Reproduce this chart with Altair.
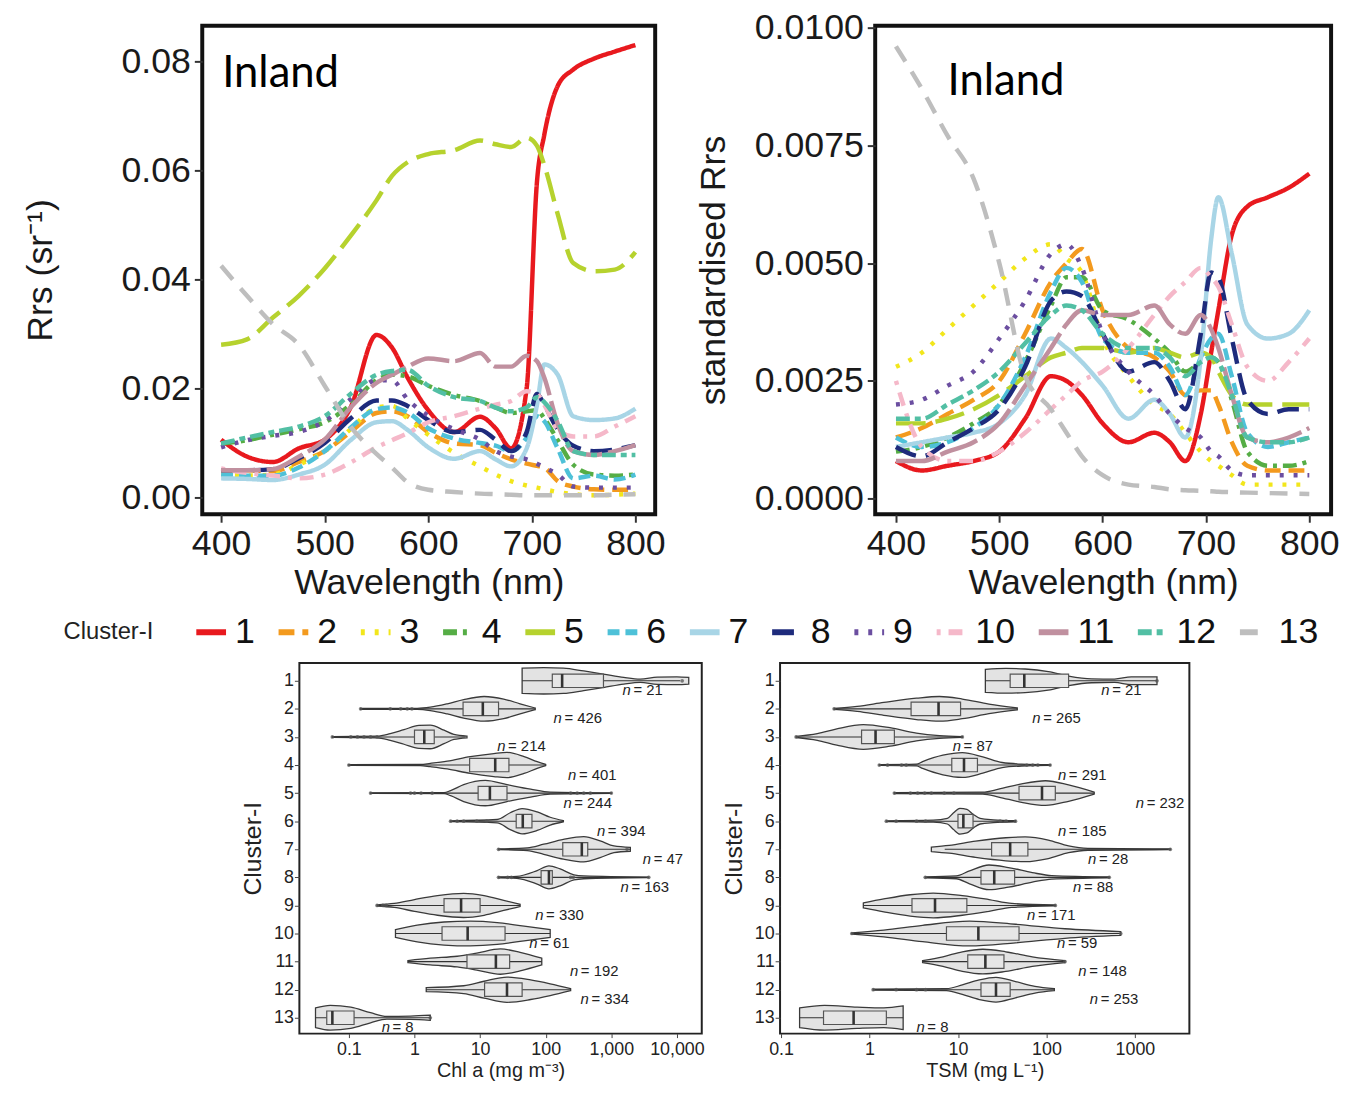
import altair as alt
import pandas as pd

FONT = "Liberation Sans"

# ---------------- cluster styling ----------------
CLUSTERS = [str(i) for i in range(1, 14)]
CLUSTER_COLORS = ["#E8191E", "#F39A1E", "#F2E61B", "#55AD45", "#B6D22E", "#4EC1D8",
                  "#A8D5E6", "#1E2B7C", "#6B4EA0", "#F5B8C9", "#C0909F", "#52BFA4", "#BEBEBE"]
CLUSTER_DASHES = [[1, 0], [16, 8], [4, 10], [14, 6, 4, 6], [30, 10], [12, 6], [1, 0],
                  [22, 10], [4, 10], [4, 8, 14, 8], [40, 6], [14, 5, 6, 5], [18, 12]]

# ---------------- spectra ----------------
WAVELENGTH = [400, 425, 450, 475, 500, 525, 550, 565, 580, 600, 625, 650, 665, 680, 695, 705, 712, 725, 740, 760, 780, 800]

rrs_1 = [.0106, .0075, .0065, .0090, .0106, .0165, .0298, .0275, .0220, .0160, .0120, .0148, .0127, .0090, .0200, .0580, .0665, .0755, .0785, .0805, .0818, .0830]
rrs_2 = [.0050, .0050, .0048, .0065, .0085, .0120, .0155, .0158, .0149, .0120, .0099, .0096, .0082, .0070, .0062, .0058, .0055, .0030, .0020, .0015, .0014, .0014]
rrs_3 = [.0042, .0040, .0042, .0060, .0085, .0125, .0165, .0168, .0145, .0115, .0082, .0057, .0042, .0030, .0022, .0018, .0015, .0010, .0006, .0004, .0005, .0007]
rrs_4 = [.0099, .0105, .0115, .0125, .0138, .0170, .0215, .0225, .0222, .0205, .0188, .0177, .0165, .0155, .0158, .0160, .0145, .0105, .0060, .0042, .0040, .0042]
rrs_5 = [.0280, .0290, .0330, .0370, .0420, .0480, .0545, .0590, .0615, .0630, .0637, .0655, .0648, .0643, .0660, .0645, .0610, .0520, .0430, .0415, .0418, .0450]
rrs_6 = [.0042, .0040, .0040, .0055, .0085, .0128, .0162, .0165, .0156, .0127, .0108, .0100, .0095, .0085, .0110, .0149, .0140, .0090, .0035, .0040, .0033, .0042]
rrs_7 = [.0035, .0034, .0032, .0042, .0060, .0105, .0138, .0140, .0124, .0092, .0071, .0085, .0070, .0057, .0090, .0170, .0244, .0225, .0149, .0142, .0145, .0163]
rrs_8 = [.0050, .0050, .0052, .0072, .0100, .0145, .0178, .0178, .0168, .0142, .0120, .0124, .0106, .0085, .0120, .0190, .0170, .0125, .0095, .0085, .0088, .0096]
rrs_9 = [.0092, .0105, .0113, .0120, .0140, .0180, .0215, .0215, .0180, .0150, .0125, .0106, .0085, .0075, .0070, .0062, .0055, .0042, .0020, .0018, .0018, .0018]
rrs_10 = [.0053, .0045, .0040, .0035, .0042, .0064, .0092, .0105, .0118, .0138, .0149, .0163, .0170, .0177, .0195, .0190, .0170, .0125, .0112, .0112, .0130, .0149]
rrs_11 = [.0050, .0050, .0052, .0075, .0106, .0165, .0210, .0225, .0240, .0255, .0250, .0265, .0240, .0240, .0260, .0250, .0220, .0135, .0085, .0078, .0085, .0096]
rrs_12 = [.0099, .0110, .0120, .0130, .0149, .0190, .0225, .0232, .0234, .0205, .0184, .0177, .0165, .0158, .0165, .0184, .0175, .0140, .0085, .0078, .0078, .0078]
rrs_13 = [.0425, .0370, .0318, .0280, .0205, .0130, .0080, .0055, .0028, .0014, .0010, .0007, .0006, .0005, .0004, .0004, .0004, .0004, .0004, .0004, .0005, .0006]

std_1 = [.0008, .0006, .0007, .0008, .0010, .0017, .0026, .0025, .0022, .0016, .0012, .0014, .0012, .0008, .0018, .0031, .0040, .0056, .0062, .0064, .0066, .0069]
std_2 = [.0013, .0015, .0018, .0021, .0025, .0035, .0046, .0050, .0053, .0040, .0032, .0030, .0027, .0022, .0023, .0023, .0020, .0012, .0007, .0006, .0006, .0006]
std_3 = [.0028, .0031, .0036, .0041, .0046, .0051, .0054, .0051, .0048, .0034, .0026, .0020, .0018, .0014, .0010, .0008, .0007, .0005, .0003, .0003, .0003, .0003]
std_4 = [.0010, .0011, .0013, .0016, .0020, .0029, .0041, .0047, .0047, .0040, .0038, .0034, .0031, .0027, .0029, .0030, .0029, .0021, .0010, .0007, .0007, .0008]
std_5 = [.0016, .0016, .0017, .0019, .0022, .0026, .0030, .0031, .0032, .0032, .0031, .0032, .0031, .0030, .0031, .0030, .0027, .0022, .0020, .0020, .0020, .0020]
std_6 = [.0013, .0011, .0012, .0015, .0020, .0030, .0044, .0049, .0046, .0034, .0031, .0031, .0028, .0022, .0030, .0034, .0035, .0026, .0014, .0011, .0012, .0013]
std_7 = [.0011, .0012, .0013, .0014, .0016, .0022, .0034, .0032, .0029, .0024, .0017, .0021, .0018, .0013, .0030, .0055, .0064, .0052, .0037, .0034, .0035, .0040]
std_8 = [.0011, .0009, .0012, .0015, .0019, .0028, .0042, .0044, .0043, .0035, .0027, .0029, .0025, .0019, .0035, .0048, .0047, .0034, .0021, .0018, .0019, .0019]
std_9 = [.0020, .0021, .0024, .0027, .0034, .0042, .0052, .0054, .0049, .0035, .0027, .0022, .0018, .0015, .0013, .0010, .0009, .0006, .0005, .0005, .0005, .0005]
std_10 = [.0025, .0011, .0008, .0008, .0010, .0014, .0019, .0022, .0025, .0027, .0032, .0039, .0043, .0046, .0049, .0047, .0045, .0037, .0028, .0025, .0029, .0034]
std_11 = [.0008, .0008, .0010, .0012, .0016, .0024, .0032, .0037, .0040, .0039, .0039, .0041, .0037, .0035, .0039, .0036, .0032, .0022, .0013, .0012, .0013, .0015]
std_12 = [.0017, .0017, .0020, .0023, .0027, .0033, .0039, .0041, .0040, .0035, .0032, .0032, .0030, .0026, .0029, .0030, .0029, .0022, .0013, .0012, .0012, .0013]
std_13 = [.0096, .0087, .0077, .0068, .0050, .0026, .0019, .0014, .0009, .0005, .0003, .00025, .0002, .00018, .00017, .00016, .00015, .00014, .00013, .00012, .00011, .0001]

RRS = [rrs_1, rrs_2, rrs_3, rrs_4, rrs_5, rrs_6, rrs_7, rrs_8, rrs_9, rrs_10, rrs_11, rrs_12, rrs_13]
STD = [std_1, std_2, std_3, std_4, std_5, std_6, std_7, std_8, std_9, std_10, std_11, std_12, std_13]

# ---------------- violin / box data ----------------
chl_violin_x = [
    [43.7, 93.3, 186, 380, 759, 1549, 2754, 5012, 10000, 15136],
    [0.151, 1.1, 1.74, 3.16, 5.62, 11.5, 22.9, 40.7, 69.2],
    [0.056, 0.269, 0.427, 0.692, 1.17, 1.74, 2.82, 3.98, 6.31],
    [0.1, 1.23, 1.74, 3.16, 7.08, 16.2, 25.7, 46.8, 74.1, 100],
    [0.214, 2.82, 3.55, 5.62, 12.0, 25.7, 58.9, 117, 1000],
    [3.55, 18.2, 28.8, 43.7, 74.1, 117, 186],
    [19.1, 52.5, 93.3, 186, 380, 676, 1096, 1950],
    [19.1, 36.3, 74.1, 112, 166, 269, 380, 3715],
    [0.269, 0.49, 1.0, 2.24, 5.62, 11.5, 22.9, 40.7],
    [0.513, 1.1, 2.82, 7.08, 18.2, 46.8, 117],
    [0.794, 1.74, 4.47, 8.91, 20.4, 40.7, 87.1],
    [1.51, 5.62, 11.5, 25.7, 58.9, 117, 240],
    [0.031, 0.052, 0.107, 0.214, 0.38, 0.871, 1.74],
]
chl_violin_hw = [
    [0.45, 0.47, 0.45, 0.35, 0.24, 0.12, 0.06, 0.13, 0.14, 0.12],
    [0.015, 0.02, 0.06, 0.18, 0.33, 0.44, 0.35, 0.18, 0.03],
    [0.015, 0.03, 0.12, 0.26, 0.41, 0.42, 0.24, 0.09, 0.03],
    [0.01, 0.02, 0.06, 0.14, 0.30, 0.41, 0.45, 0.30, 0.12, 0.02],
    [0.01, 0.02, 0.09, 0.30, 0.45, 0.30, 0.14, 0.035, 0.01],
    [0.015, 0.06, 0.30, 0.45, 0.33, 0.14, 0.02],
    [0.015, 0.05, 0.18, 0.35, 0.45, 0.30, 0.12, 0.07],
    [0.015, 0.035, 0.24, 0.41, 0.30, 0.09, 0.05, 0.01],
    [0.02, 0.07, 0.21, 0.35, 0.43, 0.35, 0.18, 0.04],
    [0.14, 0.30, 0.41, 0.44, 0.39, 0.26, 0.14],
    [0.035, 0.12, 0.19, 0.30, 0.45, 0.33, 0.12],
    [0.07, 0.14, 0.30, 0.45, 0.35, 0.21, 0.035],
    [0.35, 0.44, 0.38, 0.18, 0.05, 0.06, 0.09],
]
chl_lo = [43.7, 0.151, 0.056, 0.1, 0.214, 3.55, 19.1, 19.1, 0.269, 0.513, 0.794, 1.51, 0.031]
chl_q1 = [126, 5.5, 1.0, 6.92, 9.33, 35.5, 182, 85.1, 2.82, 2.63, 6.31, 11.7, 0.046]
chl_median = [178, 11.0, 1.41, 17.0, 14.1, 44.7, 355, 112, 5.13, 6.46, 17.4, 25.7, 0.056]
chl_q3 = [759, 19.1, 2.0, 27.5, 25.7, 61.7, 437, 126, 10.0, 24.0, 28.2, 43.7, 0.12]
chl_hi = [11220, 69.2, 6.03, 100, 1000, 186, 1950, 3715, 40.7, 117, 87.1, 240, 1.74]
chl_n = [21, 426, 214, 401, 244, 394, 47, 163, 330, 61, 192, 334, 8]
chl_n_at = [1479, 132, 18.2, 219, 186, 603, 3020, 1380, 69.2, 56.2, 234, 339, 0.316]
chl_outlier_cluster = [1, 2, 2, 2, 2, 2, 3, 3, 3, 3, 3, 3, 4, 5, 5, 5, 5, 5, 5, 5, 5, 5, 5,
                       6, 6, 6, 6, 6, 7, 7, 8, 8, 8, 8, 8, 8, 9, 9, 9, 13]
chl_outlier_value = [12023, 0.151, 0.427, 0.617, 0.776, 0.912, 0.056, 0.107, 0.135, 0.17, 0.214, 0.269,
                     0.1, 0.214, 0.871, 1.0, 1.26, 1.86, 240, 302, 380, 479, 1000,
                     3.55, 4.47, 5.62, 8.91, 12.6, 19.1, 1738, 19.1, 26.3, 30, 240, 263, 3715,
                     0.269, 0.33, 0.37, 1.74]

tsm_violin_x = [
    [20.4, 34.7, 57.5, 105, 178, 324, 589, 912, 1778],
    [0.398, 0.724, 1.45, 3.39, 6.17, 11.2, 22.4, 46.8],
    [0.148, 0.257, 0.427, 0.851, 1.7, 3.39, 6.17, 11.2],
    [1.29, 3.39, 3.98, 6.76, 11.2, 19.1, 31.6, 52.5, 110],
    [1.91, 19.1, 28.8, 52.5, 97.7, 178, 347],
    [1.55, 5.25, 7.59, 8.91, 10.5, 12.6, 14.8, 17.8, 25.1, 44.7],
    [5.0, 7.94, 15.8, 34.7, 57.5, 105, 178, 295, 2512],
    [4.27, 9.55, 13.5, 22.4, 37.2, 69.2, 115, 513],
    [0.851, 1.45, 2.88, 5.25, 11.2, 22.4, 40.7, 126],
    [0.631, 1.45, 3.98, 13.5, 44.7, 162, 692],
    [3.98, 6.76, 11.2, 19.1, 34.7, 69.2, 162],
    [1.1, 7.41, 11.2, 17.4, 26.9, 44.7, 74.1, 123],
    [0.162, 0.309, 0.724, 1.45, 2.4],
]
tsm_violin_hw = [
    [0.41, 0.44, 0.42, 0.33, 0.17, 0.07, 0.06, 0.14, 0.14],
    [0.02, 0.09, 0.23, 0.38, 0.44, 0.35, 0.17, 0.035],
    [0.02, 0.12, 0.29, 0.44, 0.33, 0.14, 0.05, 0.015],
    [0.015, 0.03, 0.12, 0.35, 0.44, 0.29, 0.09, 0.035, 0.015],
    [0.015, 0.035, 0.14, 0.33, 0.44, 0.29, 0.035],
    [0.015, 0.035, 0.10, 0.30, 0.46, 0.42, 0.25, 0.10, 0.05, 0.02],
    [0.08, 0.14, 0.29, 0.41, 0.44, 0.33, 0.12, 0.035, 0.015],
    [0.015, 0.05, 0.23, 0.44, 0.35, 0.17, 0.06, 0.015],
    [0.09, 0.23, 0.38, 0.44, 0.35, 0.21, 0.07, 0.015],
    [0.02, 0.12, 0.29, 0.44, 0.33, 0.17, 0.07],
    [0.035, 0.17, 0.35, 0.44, 0.35, 0.17, 0.035],
    [0.015, 0.035, 0.17, 0.35, 0.44, 0.29, 0.12, 0.035],
    [0.35, 0.44, 0.38, 0.35, 0.42],
]
tsm_lo = [20.4, 0.398, 0.148, 1.29, 1.91, 1.55, 7.08, 4.27, 0.851, 0.631, 3.98, 1.1, 0.162]
tsm_q1 = [38.9, 2.95, 0.813, 8.51, 49.0, 10.0, 24.0, 18.2, 3.02, 7.41, 12.9, 18.2, 0.302]
tsm_median = [56.2, 6.03, 1.17, 11.7, 89.1, 11.5, 38.9, 25.7, 5.5, 17.0, 20.4, 26.9, 0.661]
tsm_q3 = [178, 10.7, 1.91, 16.6, 126, 14.8, 61.7, 43.7, 12.6, 49.0, 33.1, 38.9, 1.55]
tsm_hi = [1778, 46.8, 11.2, 110, 347, 44.7, 2512, 513, 126, 692, 162, 123, 2.4]
tsm_n = [21, 265, 87, 291, 232, 185, 28, 88, 171, 59, 148, 253, 8]
tsm_n_at = [417, 69.2, 8.71, 135, 1023, 135, 295, 200, 60.3, 132, 229, 309, 3.39]
tsm_outlier_cluster = [1, 2, 3, 3, 4, 4, 4, 4, 4, 4, 4, 4, 5, 5, 5, 5, 5, 5, 5,
                       6, 6, 6, 6, 6, 6, 6, 7, 8, 8, 9, 10, 10, 11, 12, 12, 12, 12]
tsm_outlier_value = [1778, 0.398, 0.148, 11.2, 1.29, 1.6, 2.3, 2.6, 60, 70, 80, 110,
                     1.91, 2.9, 3.5, 4.2, 5.0, 7.0, 9.0, 1.55, 2.0, 3.4, 4.3, 30, 35, 44.7,
                     2512, 4.27, 513, 126, 0.631, 692, 162, 1.1, 2.0, 3.4, 4.3]

# ---------------- build tables ----------------
def spectra_frame(series_list):
    rows = []
    for c, series in zip(CLUSTERS, series_list):
        for w, v in zip(WAVELENGTH, series):
            rows.append({"wavelength": w, "value": v, "cluster": c})
    return pd.DataFrame(rows)

rrs_df = spectra_frame(RRS)
std_df = spectra_frame(STD)

color_scale = alt.Scale(domain=CLUSTERS, range=CLUSTER_COLORS)
dash_scale = alt.Scale(domain=CLUSTERS, range=CLUSTER_DASHES)

legend_opts = dict(
    orient="none", legendX=-140, legendY=594, direction="horizontal", title="Cluster-I",
    titleOrient="left", titleFont=FONT, titleFontSize=24, titleFontWeight="normal",
    titleColor="#222222", titlePadding=40, titleBaseline="middle", gridAlign="none",
    labelFont=FONT, labelFontSize=36, labelColor="#111111", labelOffset=6,
    symbolType="stroke", symbolSize=900, symbolStrokeWidth=6, columnPadding=11,
)

def axis_x_top():
    return alt.Axis(values=[400, 500, 600, 700, 800], title="Wavelength (nm)", grid=False, domain=False,
                    tickSize=8, tickWidth=2, tickColor="#333333", labelFont=FONT, titleFont=FONT,
                    labelFontSize=36, titleFontSize=36, labelColor="#1a1a1a", titleColor="#1a1a1a",
                    titleFontWeight="normal", labelPadding=5, titlePadding=4,
                    labelFlush=False, labelOverlap=False)

def axis_y_top(values, fmt, title, title_pad):
    return alt.Axis(values=values, format=fmt, title=title, grid=False, domain=False,
                    tickSize=8, tickWidth=2, tickColor="#333333", labelFont=FONT, titleFont=FONT,
                    labelFontSize=36, titleFontSize=36, labelColor="#1a1a1a", titleColor="#1a1a1a",
                    titleFontWeight="normal", labelPadding=4, titlePadding=title_pad,
                    labelFlush=False, labelOverlap=False)

def spectra_panel(df, xdom, ydom, yaxis, inland_at, width):
    xs = alt.Scale(domain=xdom, nice=False, zero=False)
    ys = alt.Scale(domain=ydom, nice=False, zero=False)
    lines = alt.Chart(df).mark_line(strokeWidth=4.5, interpolate="monotone").encode(
        x=alt.X("wavelength:Q", scale=xs, axis=axis_x_top()),
        y=alt.Y("value:Q", scale=ys, axis=yaxis),
        color=alt.Color("cluster:N", scale=color_scale, legend=alt.Legend(**legend_opts)),
        strokeDash=alt.StrokeDash("cluster:N", scale=dash_scale, legend=alt.Legend(**legend_opts)),
    )
    label = alt.Chart(pd.DataFrame({"wavelength": [inland_at[0]], "value": [inland_at[1]],
                                    "text": ["Inland"]})).mark_text(
        align="left", baseline="middle", font="Lato", fontSize=44, color="#000000"
    ).encode(
        x=alt.X("wavelength:Q", scale=xs, axis=axis_x_top()),
        y=alt.Y("value:Q", scale=ys, axis=yaxis),
        text="text:N",
    )
    return alt.layer(lines, label).properties(
        width=width, height=493,
        view=alt.ViewBackground(stroke="#111111", strokeWidth=4),
    )

top_left = spectra_panel(
    rrs_df, [381.8, 819.1], [-0.00309, 0.08655],
    axis_y_top([0, 0.02, 0.04, 0.06, 0.08], ".2f", "Rrs (sr\u207b\u00b9)", 62),
    (401, 0.0776), 457,
)
top_right = spectra_panel(
    std_df, [379.9, 821.1], [-0.00033, 0.01004],
    axis_y_top([0, 0.0025, 0.005, 0.0075, 0.01], ".4f", "standardised Rrs", 22),
    (449.9, 0.00885), 460,
)

# ---------------- violin panels ----------------
BOX_HALF = 0.24
N_OFFSET = 0.34

def violin_panel(vx, vhw, lo, q1, med, q3, hi, n, n_at, oc, ov, xdom, ticks, fmt, xtitle, width):
    vrows = []
    for k in range(13):
        for xv, hw in zip(vx[k], vhw[k]):
            vrows.append({"cluster": k + 1, "x": xv, "ylo": k + 1 - hw, "yhi": k + 1 + hw})
    vdf = pd.DataFrame(vrows)
    bdf = pd.DataFrame({"cluster": list(range(1, 14)), "lo": lo, "q1": q1, "med": med, "q3": q3, "hi": hi,
                        "n": n, "n_at": n_at})
    bdf["ylo"] = bdf["cluster"] - BOX_HALF
    bdf["yhi"] = bdf["cluster"] + BOX_HALF
    bdf["ylab"] = bdf["cluster"] + N_OFFSET
    bdf["ntext"] = ["= " + str(v) for v in n]
    odf = pd.DataFrame({"cluster": oc, "x": ov})

    xs = alt.Scale(type="log", domain=xdom, nice=False)
    ys = alt.Scale(domain=[0.365, 13.565], nice=False, zero=False, reverse=True)
    xaxis = alt.Axis(values=ticks, format=fmt, title=xtitle, grid=False, domain=False, tickSize=4,
                     tickColor="#444444", labelFont=FONT, titleFont=FONT, labelFontSize=18, titleFontSize=20,
                     labelColor="#222222", titleColor="#222222", titleFontWeight="normal",
                     labelPadding=3, titlePadding=2, labelFlush=False, labelOverlap=False)
    yaxis = alt.Axis(values=list(range(1, 14)), format="d", title="Cluster-I", grid=False, domain=False,
                     tickSize=5, tickColor="#444444", labelFont=FONT, titleFont=FONT, labelFontSize=18,
                     titleFontSize=25, labelColor="#222222", titleColor="#222222", titleFontWeight="normal",
                     labelPadding=1, titlePadding=8, labelFlush=False, labelOverlap=False)

    def X(f):
        return alt.X(f, type="quantitative", scale=xs, axis=xaxis)

    def Y(f):
        return alt.Y(f, type="quantitative", scale=ys, axis=yaxis)

    violins = alt.Chart(vdf).mark_area(orient="vertical", interpolate="monotone", fill="#E3E3E3",
                                       stroke="#3a3a3a", strokeWidth=1.3).encode(
        x=X("x"), y=Y("ylo"), y2="yhi", detail="cluster:N")
    boxes = alt.Chart(bdf).mark_rect(fill="#E6E6E6", stroke="#555555", strokeWidth=1.2).encode(
        x=X("q1"), x2="q3", y=Y("ylo"), y2="yhi")
    whisk = alt.Chart(bdf).mark_rule(color="#333333", strokeWidth=1.1).encode(
        x=X("lo"), x2="hi", y=Y("cluster"))
    medians = alt.Chart(bdf).mark_rule(color="#333333", strokeWidth=2.6).encode(
        x=X("med"), y=Y("ylo"), y2="yhi")
    outl = alt.Chart(odf).mark_circle(size=14, color="#555555", opacity=0.75).encode(
        x=X("x"), y=Y("cluster"))
    n_italic = alt.Chart(bdf).mark_text(text="n", align="left", baseline="middle", font=FONT,
                                        fontStyle="italic", fontSize=15, color="#222222").encode(
        x=X("n_at"), y=Y("ylab"))
    n_val = alt.Chart(bdf).mark_text(align="left", baseline="middle", font=FONT, fontSize=15,
                                     color="#222222", dx=11).encode(
        x=X("n_at"), y=Y("ylab"), text="ntext:N")
    return alt.layer(violins, whisk, boxes, medians, outl, n_italic, n_val).properties(
        width=width, height=374, view=alt.ViewBackground(stroke="#222222", strokeWidth=2))

bottom_left = violin_panel(chl_violin_x, chl_violin_hw, chl_lo, chl_q1, chl_median, chl_q3, chl_hi,
                           chl_n, chl_n_at, chl_outlier_cluster, chl_outlier_value,
                           [0.0176, 23900], [0.1, 1, 10, 100, 1000, 10000], ",",
                           "Chl a (mg m\u207b\u00b3)", 406)
bottom_right = violin_panel(tsm_violin_x, tsm_violin_hw, tsm_lo, tsm_q1, tsm_median, tsm_q3, tsm_hi,
                            tsm_n, tsm_n_at, tsm_outlier_cluster, tsm_outlier_value,
                            [0.0974, 4130], [0.1, 1, 10, 100, 1000], "~g",
                            "TSM (mg L\u207b\u00b9)", 413)

spacer = alt.Chart(pd.DataFrame({"v": [0]})).mark_point(opacity=0).properties(
    width=23, height=374, view=alt.ViewBackground(strokeOpacity=0))

top_row = alt.hconcat(top_left, top_right, spacing=25)
bottom_row = alt.hconcat(spacer, bottom_left, bottom_right, spacing=14)

chart = alt.vconcat(top_row, bottom_row, spacing=60,
                    padding={"left": 12, "top": -6, "right": 0, "bottom": 0}).configure(
    background="white")

chart.save("out.html", embed_options={"renderer": "svg", "actions": False})
